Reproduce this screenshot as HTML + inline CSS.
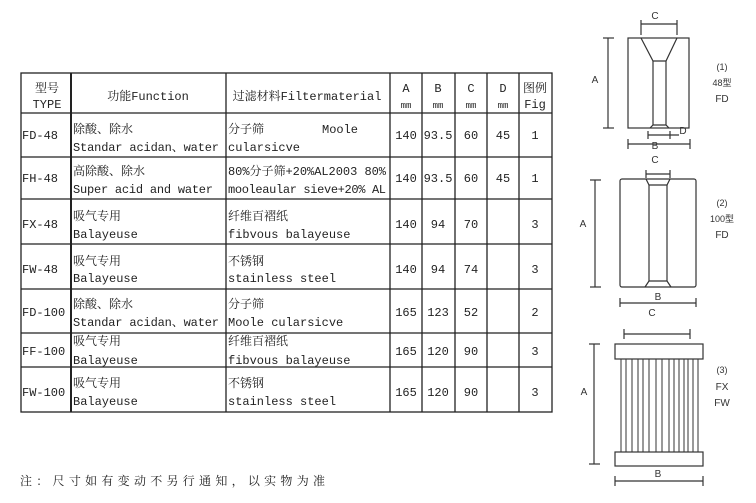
<!DOCTYPE html>
<html><head><meta charset="utf-8"><style>
html,body{margin:0;padding:0;background:#fff;}
svg{display:block;}
.t{font-family:"Liberation Mono","Noto Serif CJK SC",monospace;font-size:12px;fill:#222;}
.s{font-family:"Liberation Sans","Noto Sans CJK SC",sans-serif;font-size:10px;fill:#333;}
</style></head><body>
<svg width="756" height="503" viewBox="0 0 756 503" xmlns="http://www.w3.org/2000/svg">
<g stroke="#222" stroke-width="1.3" fill="none">
<rect x="21" y="73" width="531" height="339"/>
<line x1="71" y1="73" x2="71" y2="412" stroke-width="2"/>
<line x1="226" y1="73" x2="226" y2="412"/>
<line x1="390" y1="73" x2="390" y2="412"/>
<line x1="422" y1="73" x2="422" y2="412"/>
<line x1="455" y1="73" x2="455" y2="412"/>
<line x1="487" y1="73" x2="487" y2="412"/>
<line x1="519" y1="73" x2="519" y2="412"/>
<line x1="21" y1="113" x2="552" y2="113"/>
<line x1="21" y1="157" x2="552" y2="157"/>
<line x1="21" y1="199" x2="552" y2="199"/>
<line x1="21" y1="244" x2="552" y2="244"/>
<line x1="21" y1="289" x2="552" y2="289"/>
<line x1="21" y1="333" x2="552" y2="333"/>
<line x1="21" y1="367" x2="552" y2="367"/>
</g>
<g class="t">
<text x="47" y="92" text-anchor="middle">型号</text>
<text x="47" y="108" text-anchor="middle">TYPE</text>
<text x="148" y="100" text-anchor="middle">功能Function</text>
<text x="307" y="100" text-anchor="middle">过滤材料Filtermaterial</text>
<text x="406" y="92" text-anchor="middle">A</text><text x="406" y="108" text-anchor="middle" font-size="9">mm</text>
<text x="438" y="92" text-anchor="middle">B</text><text x="438" y="108" text-anchor="middle" font-size="9">mm</text>
<text x="471" y="92" text-anchor="middle">C</text><text x="471" y="108" text-anchor="middle" font-size="9">mm</text>
<text x="503" y="92" text-anchor="middle">D</text><text x="503" y="108" text-anchor="middle" font-size="9">mm</text>
<text x="535" y="92" text-anchor="middle">图例</text><text x="535" y="108" text-anchor="middle">Fig</text>

<text x="22" y="139">FD-48</text>
<text x="73" y="133">除酸、除水</text><text x="73" y="151" textLength="146">Standar acidan、water</text>
<text x="228" y="133">分子筛</text><text x="322" y="133">Moole</text><text x="228" y="151">cularsicve</text>
<text x="406" y="139" text-anchor="middle">140</text><text x="438" y="139" text-anchor="middle">93.5</text><text x="471" y="139" text-anchor="middle">60</text><text x="503" y="139" text-anchor="middle">45</text><text x="535" y="139" text-anchor="middle">1</text>

<text x="22" y="182">FH-48</text>
<text x="73" y="175">高除酸、除水</text><text x="73" y="193" textLength="140">Super acid and water</text>
<text x="228" y="175" textLength="158">80%分子筛+20%AL2003 80%</text><text x="228" y="193" textLength="158">mooleaular sieve+20% AL</text>
<text x="406" y="182" text-anchor="middle">140</text><text x="438" y="182" text-anchor="middle">93.5</text><text x="471" y="182" text-anchor="middle">60</text><text x="503" y="182" text-anchor="middle">45</text><text x="535" y="182" text-anchor="middle">1</text>

<text x="22" y="228">FX-48</text>
<text x="73" y="220">吸气专用</text><text x="73" y="238">Balayeuse</text>
<text x="228" y="220">纤维百褶纸</text><text x="228" y="238">fibvous balayeuse</text>
<text x="406" y="228" text-anchor="middle">140</text><text x="438" y="228" text-anchor="middle">94</text><text x="471" y="228" text-anchor="middle">70</text><text x="535" y="228" text-anchor="middle">3</text>

<text x="22" y="273">FW-48</text>
<text x="73" y="265">吸气专用</text><text x="73" y="282">Balayeuse</text>
<text x="228" y="265">不锈钢</text><text x="228" y="282">stainless steel</text>
<text x="406" y="273" text-anchor="middle">140</text><text x="438" y="273" text-anchor="middle">94</text><text x="471" y="273" text-anchor="middle">74</text><text x="535" y="273" text-anchor="middle">3</text>

<text x="22" y="316">FD-100</text>
<text x="73" y="308">除酸、除水</text><text x="73" y="326" textLength="146">Standar acidan、water</text>
<text x="228" y="308">分子筛</text><text x="228" y="326">Moole cularsicve</text>
<text x="406" y="316" text-anchor="middle">165</text><text x="438" y="316" text-anchor="middle">123</text><text x="471" y="316" text-anchor="middle">52</text><text x="535" y="316" text-anchor="middle">2</text>

<text x="22" y="355">FF-100</text>
<text x="73" y="345">吸气专用</text><text x="73" y="364">Balayeuse</text>
<text x="228" y="345">纤维百褶纸</text><text x="228" y="364">fibvous balayeuse</text>
<text x="406" y="355" text-anchor="middle">165</text><text x="438" y="355" text-anchor="middle">120</text><text x="471" y="355" text-anchor="middle">90</text><text x="535" y="355" text-anchor="middle">3</text>

<text x="22" y="396">FW-100</text>
<text x="73" y="387">吸气专用</text><text x="73" y="405">Balayeuse</text>
<text x="228" y="387">不锈钢</text><text x="228" y="405">stainless steel</text>
<text x="406" y="396" text-anchor="middle">165</text><text x="438" y="396" text-anchor="middle">120</text><text x="471" y="396" text-anchor="middle">90</text><text x="535" y="396" text-anchor="middle">3</text>
</g>
<text x="20" y="485" class="t" font-size="13.5" textLength="305" fill="#333">注：尺寸如有变动不另行通知，以实物为准</text>

<g stroke="#333" stroke-width="1.2" fill="none">
<rect x="628" y="38" width="61" height="90"/>
<line x1="641" y1="24" x2="677" y2="24"/><line x1="641" y1="20" x2="641" y2="35"/><line x1="677" y1="20" x2="677" y2="35"/>
<polyline points="641,38 653,61 666,61 677,38"/>
<line x1="653" y1="61" x2="653" y2="125"/><line x1="666" y1="61" x2="666" y2="125"/>
<polyline points="650,128 653,125 666,125 669,128"/>
<line x1="608" y1="38" x2="608" y2="128"/><line x1="603" y1="38" x2="614" y2="38"/><line x1="603" y1="128" x2="614" y2="128"/>
<line x1="648" y1="135" x2="679" y2="135"/><line x1="648" y1="131" x2="648" y2="139"/><line x1="670" y1="131" x2="670" y2="139"/>
<line x1="628" y1="144" x2="690" y2="144"/><line x1="628" y1="139" x2="628" y2="149"/><line x1="690" y1="139" x2="690" y2="149"/>
<rect x="620" y="179" width="76" height="108" rx="2"/>
<line x1="646" y1="174" x2="670" y2="174"/><line x1="646" y1="170" x2="646" y2="178"/><line x1="670" y1="170" x2="670" y2="178"/>
<polyline points="646,179 649,185 667,185 670,179"/>
<line x1="649" y1="185" x2="649" y2="281"/><line x1="667" y1="185" x2="667" y2="281"/>
<polyline points="645,287 649,281 667,281 671,287"/>
<line x1="595" y1="180" x2="595" y2="287"/><line x1="590" y1="180" x2="601" y2="180"/><line x1="590" y1="287" x2="601" y2="287"/>
<line x1="620" y1="303" x2="696" y2="303"/><line x1="620" y1="298" x2="620" y2="307"/><line x1="696" y1="298" x2="696" y2="307"/>
<line x1="624" y1="334" x2="690" y2="334"/><line x1="624" y1="329" x2="624" y2="339"/><line x1="690" y1="329" x2="690" y2="339"/>
<rect x="615" y="344" width="88" height="15"/>
<rect x="615" y="452" width="88" height="14"/>
<line x1="594" y1="344" x2="594" y2="464"/><line x1="589" y1="344" x2="600" y2="344"/><line x1="589" y1="464" x2="600" y2="464"/>
<line x1="615" y1="481" x2="703" y2="481"/><line x1="615" y1="476" x2="615" y2="486"/><line x1="703" y1="476" x2="703" y2="486"/>
<g stroke-width="1">
<line x1="621" y1="359" x2="621" y2="452"/><line x1="626" y1="359" x2="626" y2="452"/><line x1="632" y1="359" x2="632" y2="452"/><line x1="638" y1="359" x2="638" y2="452"/><line x1="643" y1="359" x2="643" y2="452"/><line x1="649" y1="359" x2="649" y2="452"/><line x1="656" y1="359" x2="656" y2="452"/><line x1="662" y1="359" x2="662" y2="452"/><line x1="669" y1="359" x2="669" y2="452"/><line x1="674" y1="359" x2="674" y2="452"/><line x1="679" y1="359" x2="679" y2="452"/><line x1="684" y1="359" x2="684" y2="452"/><line x1="688" y1="359" x2="688" y2="452"/><line x1="693" y1="359" x2="693" y2="452"/><line x1="698" y1="359" x2="698" y2="452"/>
</g>
</g>
<g class="s">
<text x="655" y="19" text-anchor="middle">C</text>
<text x="595" y="83" text-anchor="middle">A</text>
<text x="683" y="134" text-anchor="middle">D</text>
<text x="655" y="149" text-anchor="middle">B</text>
<text x="722" y="70" text-anchor="middle" font-size="9">(1)</text>
<text x="722" y="86" text-anchor="middle" font-size="9">48型</text>
<text x="722" y="102" text-anchor="middle">FD</text>
<text x="655" y="163" text-anchor="middle">C</text>
<text x="583" y="227" text-anchor="middle">A</text>
<text x="658" y="300" text-anchor="middle">B</text>
<text x="652" y="316" text-anchor="middle">C</text>
<text x="722" y="206" text-anchor="middle" font-size="9">(2)</text>
<text x="722" y="222" text-anchor="middle" font-size="9">100型</text>
<text x="722" y="238" text-anchor="middle">FD</text>
<text x="584" y="395" text-anchor="middle">A</text>
<text x="658" y="477" text-anchor="middle">B</text>
<text x="722" y="373" text-anchor="middle" font-size="9">(3)</text>
<text x="722" y="390" text-anchor="middle">FX</text>
<text x="722" y="406" text-anchor="middle">FW</text>
</g>
</svg>
</body></html>
